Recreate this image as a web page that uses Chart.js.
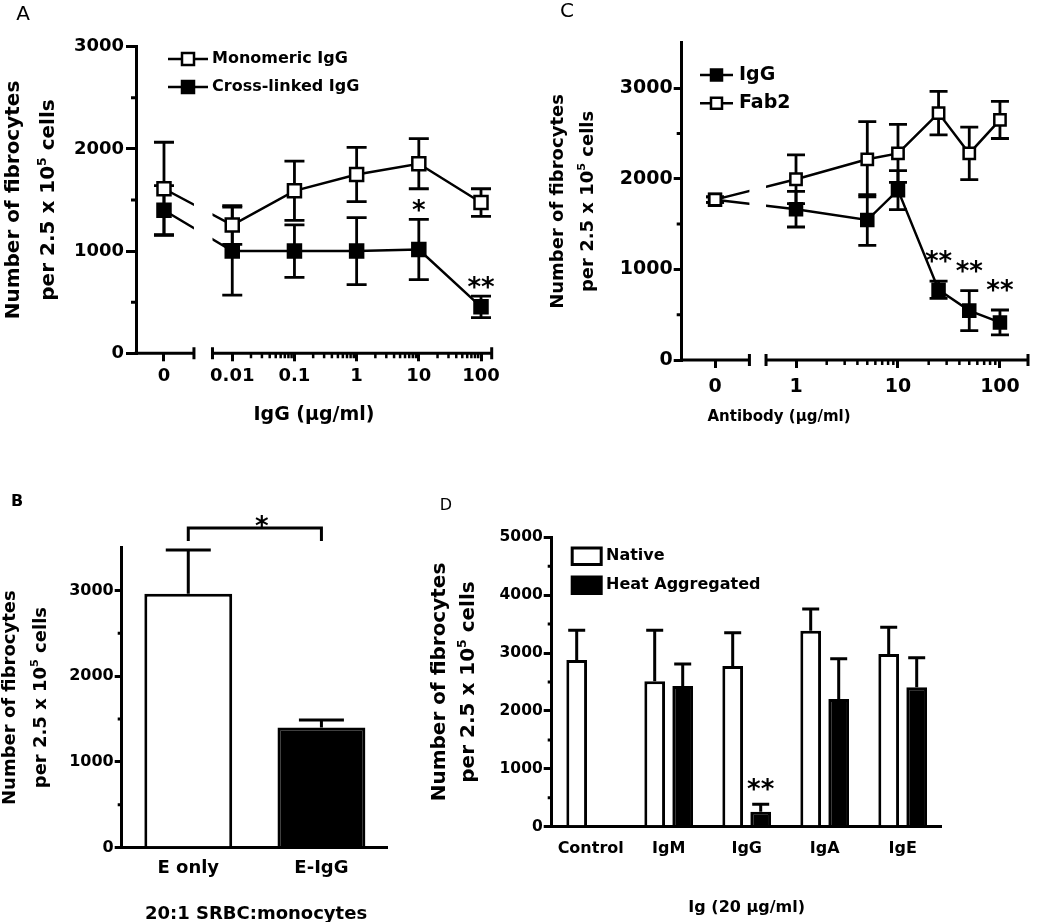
<!DOCTYPE html>
<html>
<head>
<meta charset="utf-8">
<script src="https://cdn.jsdelivr.net/npm/chart.js@4"></script>
<style>
  html, body { margin: 0; background: #fff; }
  #wrap { position: relative; width: 1050px; height: 922px; }
  #wrap canvas { position: absolute; left: 0; top: 0; }
</style>
</head>
<body>
<div id="wrap">
  <canvas id="panelA" width="1050" height="922"></canvas>
  <canvas id="panelB" width="1050" height="922"></canvas>
  <canvas id="panelC" width="1050" height="922"></canvas>
  <canvas id="panelD" width="1050" height="922"></canvas>
</div>
<script>
// ---- panel A: IgG dose response ----
const doseA = [0, 0.01, 0.1, 1, 10, 100];
const tickDoseA = [0, 0.01, 0.1, 1, 10, 100];
const tickLabelA = ['0', '0.01', '0.1', '1', '10', '100'];
const seriesA = ['Monomeric IgG', 'Cross-linked IgG'];
const monoA = [1610, 1255, 1590, 1750, 1855, 1475];
const monoErrA = [455, 190, 290, 265, 245, 135];
const crossA = [1400, 1000, 1000, 1000, 1015, 455];
const crossErrA = [240, 430, 257, 328, 295, 105];
const crossSigA = ['', '', '', '', '*', '**'];

// ---- panel B: SRBC ----
const catB = ['E only', 'E-IgG'];
const valB = [2960, 1400];
const errB = [510, 90];

// ---- panel C: antibody vs Fab2 ----
const doseC = [0, 1, 5, 10, 25, 50, 100];
const tickDoseC = [0, 1, 10, 100];
const tickLabelC = ['0', '1', '10', '100'];
const seriesC = ['IgG', 'Fab2'];
const iggC = [1770, 1665, 1545, 1875, 775, 545, 415];
const iggErrC = [30, 197, 280, 215, 95, 220, 137];
const iggSigC = ['', '', '', '', '**', '**', '**'];
const fabC = [1770, 1995, 2215, 2280, 2725, 2280, 2650];
const fabErrC = [30, 270, 415, 320, 240, 290, 205];

// ---- panel D: Ig classes ----
const catD = ['Control', 'IgM', 'IgG', 'IgA', 'IgE'];
const seriesD = ['Native', 'Heat Aggregated'];
const nativeD = [2880, 2515, 2775, 3385, 2985];
const nativeErrD = [515, 880, 575, 375, 460];
const heatD = [null, 2430, 260, 2205, 2410];
const heatErrD = [null, 380, 128, 697, 511];
const heatSigD = ['', '', '**', '', ''];

// y tick values shared by all panels
const yTicks3000 = [0, 1000, 2000, 3000];
const yTicks5000 = [0, 1000, 2000, 3000, 4000, 5000];

const yTitle = ['Number of fibrocytes', 'per 2.5 x 10', '5', ' cells'];
const xTitleA = 'IgG (μg/ml)';
const xTitleB = '20:1 SRBC:monocytes';
const xTitleC = 'Antibody (μg/ml)';
const xTitleD = 'Ig (20 μg/ml)';

const FAMILY = "'DejaVu Sans', sans-serif";
Chart.defaults.font.family = FAMILY;
Chart.defaults.font.weight = 'bold';
Chart.defaults.color = '#000';
Chart.defaults.animation = false;
Chart.defaults.plugins.legend.display = false;
Chart.defaults.plugins.tooltip.enabled = false;

const font = (size, weight = 'bold') => `${weight} ${size}px ${FAMILY}`;

// plot boxes (pixels of the page)
const boxA = { left: 136, right: 491.7, top: 46.7, bottom: 353.3 };
const boxB = { left: 121.7, right: 388, top: 547.5, bottom: 847.7 };
const boxC = { left: 681.7, right: 1028, top: 42.9, bottom: 360 };
const boxD = { left: 551.7, right: 941.7, top: 537.3, bottom: 826.7 };

// broken log axes: 0 sits left of the break, the rest on log10
function makeBreak(zero, gapL, gapR, min, max) {
  return { zero, gapL, gapR, min, max, pos: v => v === 0 ? zero : Math.log10(v) };
}
const brkA = makeBreak(-3.098, -2.616, -2.318, -3.548, 2.172);
const brkC = makeBreak(-0.794, -0.457, -0.294, -1.121, 2.275);

function pad(box) {
  return { left: box.left - 70, top: box.top, right: 1050 - box.right, bottom: 922 - box.bottom - 40 };
}

function yAxis(max, tickVals, size, tickLen, tickPad) {
  return {
    min: 0, max,
    afterFit: s => { s.width = 70; },
    afterBuildTicks: s => { s.ticks = tickVals.map(v => ({ value: v })); },
    ticks: { font: { size }, padding: tickPad, color: '#000', callback: v => String(v) },
    grid: { drawOnChartArea: false, tickLength: tickLen, tickWidth: 3, lineWidth: 3, color: '#000' },
    border: { width: 3, color: '#000' }
  };
}

function xBroken(brk, tickDoses, tickLabels, size, tickPad) {
  return {
    type: 'linear', min: brk.min, max: brk.max, bounds: 'data',
    afterFit: s => { s.height = 40; },
    afterBuildTicks: s => { s.ticks = tickDoses.map(d => ({ value: brk.pos(d) })); },
    ticks: { autoSkip: false, maxRotation: 0, padding: tickPad, font: { size }, color: '#000',
             callback: (v, i) => tickLabels[i] },
    grid: { drawOnChartArea: false, tickLength: 8, tickWidth: 3, lineWidth: 3, color: '#000' },
    border: { display: false }
  };
}

function xCategory(size, tickPad) {
  return {
    afterFit: s => { s.height = 40; },
    ticks: { font: { size }, padding: tickPad, color: '#000', maxRotation: 0 },
    grid: { drawOnChartArea: false, drawTicks: false, color: '#000' },
    border: { width: 3, color: '#000' }
  };
}

function lineSet(label, doses, vals, errs, fill, brk, r, sig) {
  return {
    label, errors: errs, sig: sig || [],
    data: doses.map((d, i) => ({ x: brk.pos(d), y: vals[i] })),
    borderColor: '#000', borderWidth: 2.5, tension: 0, fill: false,
    pointStyle: 'rect', pointRadius: r, pointBorderWidth: 2.5,
    pointBorderColor: '#000', pointBackgroundColor: fill
  };
}

// ---- drawing helpers ----
function drawYTitle(ctx, xb1, xb2, yc, size) {
  ctx.save();
  ctx.fillStyle = '#000';
  ctx.textBaseline = 'alphabetic';
  ctx.translate(xb1, yc);
  ctx.rotate(-Math.PI / 2);
  ctx.font = font(size);
  ctx.textAlign = 'center';
  ctx.fillText(yTitle[0], 0, 0);
  ctx.restore();

  ctx.save();
  ctx.fillStyle = '#000';
  ctx.textBaseline = 'alphabetic';
  ctx.textAlign = 'left';
  ctx.translate(xb2, yc);
  ctx.rotate(-Math.PI / 2);
  const small = size * 0.62;
  ctx.font = font(size);
  const wa = ctx.measureText(yTitle[1]).width, wc = ctx.measureText(yTitle[3]).width;
  ctx.font = font(small);
  const wb = ctx.measureText(yTitle[2]).width;
  let x = -(wa + wb + wc) / 2;
  ctx.font = font(size);
  ctx.fillText(yTitle[1], x, 0); x += wa;
  ctx.font = font(small);
  ctx.fillText(yTitle[2], x, -size * 0.42); x += wb;
  ctx.font = font(size);
  ctx.fillText(yTitle[3], x, 0);
  ctx.restore();
}

function drawText(ctx, text, x, y, size, weight = 'bold') {
  ctx.save();
  ctx.fillStyle = '#000';
  ctx.font = font(size, weight);
  ctx.textAlign = 'center';
  ctx.textBaseline = 'middle';
  ctx.fillText(text, x, y);
  ctx.restore();
}

function yMinor(chart, len) {
  const { ctx, chartArea: a, scales: { y } } = chart;
  ctx.save();
  ctx.strokeStyle = '#000';
  ctx.lineWidth = 3;
  ctx.beginPath();
  for (let v = 500; v < y.max; v += 1000) {
    const py = y.getPixelForValue(v);
    ctx.moveTo(a.left, py);
    ctx.lineTo(a.left - len, py);
  }
  ctx.stroke();
  ctx.restore();
}

function brokenAxis(chart, brk, firstMinor) {
  const { ctx, chartArea: a, scales: { x } } = chart;
  const yb = a.bottom;
  const gl = x.getPixelForValue(brk.gapL), gr = x.getPixelForValue(brk.gapR);
  ctx.save();
  ctx.strokeStyle = '#000';
  ctx.lineWidth = 3;
  ctx.beginPath();
  ctx.moveTo(a.left - 1.5, yb); ctx.lineTo(gl, yb);
  ctx.moveTo(gr, yb); ctx.lineTo(a.right, yb);
  [gl, gr, a.right].forEach(px => { ctx.moveTo(px, yb - 6); ctx.lineTo(px, yb + 6); });
  ctx.stroke();
  ctx.lineWidth = 2.5;
  ctx.beginPath();
  for (let d = Math.floor(brk.pos(firstMinor)); d < Math.ceil(brk.max); d++) {
    for (let k = 2; k <= 9; k++) {
      const t = d + Math.log10(k);
      if (t > brk.max) continue;
      const px = x.getPixelForValue(t);
      ctx.moveTo(px, yb); ctx.lineTo(px, yb + 5);
    }
  }
  ctx.stroke();
  ctx.restore();
}

function lineErrors(chart, cap) {
  const { ctx, scales: { x, y } } = chart;
  ctx.save();
  ctx.strokeStyle = '#000';
  ctx.lineWidth = 2.8;
  chart.data.datasets.forEach(ds => {
    ds.data.forEach((p, i) => {
      const e = ds.errors[i];
      if (!e) return;
      const px = x.getPixelForValue(p.x);
      const hi = y.getPixelForValue(p.y + e), lo = y.getPixelForValue(p.y - e);
      ctx.beginPath();
      ctx.moveTo(px, hi); ctx.lineTo(px, lo);
      ctx.moveTo(px - cap, hi); ctx.lineTo(px + cap, hi);
      ctx.moveTo(px - cap, lo); ctx.lineTo(px + cap, lo);
      ctx.stroke();
    });
  });
  ctx.restore();
}

function barErrors(chart, cap) {
  const { ctx, scales: { y } } = chart;
  ctx.save();
  ctx.strokeStyle = '#000';
  ctx.lineWidth = 3;
  chart.data.datasets.forEach((ds, di) => {
    chart.getDatasetMeta(di).data.forEach((bar, i) => {
      const v = ds.data[i], e = ds.errors[i];
      if (v == null || !e) return;
      const top = y.getPixelForValue(v), hi = y.getPixelForValue(v + e);
      ctx.beginPath();
      ctx.moveTo(bar.x, top); ctx.lineTo(bar.x, hi);
      ctx.moveTo(bar.x - cap, hi); ctx.lineTo(bar.x + cap, hi);
      ctx.stroke();
    });
  });
  ctx.restore();
}

function stars(chart, size, lift) {
  const { ctx, scales: { y } } = chart;
  ctx.save();
  ctx.fillStyle = '#000';
  ctx.font = font(size);
  ctx.textAlign = 'center';
  ctx.textBaseline = 'alphabetic';
  chart.data.datasets.forEach((ds, di) => {
    (ds.sig || []).forEach((s, i) => {
      if (!s) return;
      const el = chart.getDatasetMeta(di).data[i];
      const raw = ds.data[i];
      const v = typeof raw === 'object' ? raw.y : raw;
      const cy = y.getPixelForValue(v + (ds.errors[i] || 0)) - lift;
      ctx.fillText(s, el.x, cy + size * 0.58);
    });
  });
  ctx.restore();
}

function lineLegend(chart, rows, x0, x1, xt, size, half) {
  const { ctx } = chart;
  ctx.save();
  rows.forEach(row => {
    const ds = chart.data.datasets[row.di];
    const cx = (x0 + x1) / 2;
    ctx.strokeStyle = '#000';
    ctx.lineWidth = 2.5;
    ctx.beginPath();
    ctx.moveTo(x0, row.y); ctx.lineTo(x1, row.y);
    ctx.stroke();
    ctx.fillStyle = ds.pointBackgroundColor;
    ctx.beginPath();
    ctx.rect(cx - half, row.y - half, half * 2, half * 2);
    ctx.fill();
    ctx.stroke();
    ctx.fillStyle = '#000';
    ctx.font = font(size);
    ctx.textAlign = 'left';
    ctx.textBaseline = 'middle';
    ctx.fillText(ds.label, xt, row.y);
  });
  ctx.restore();
}

function brokenPlugin(id, brk, cap) {
  return {
    id,
    beforeDatasetsDraw(chart) {
      lineErrors(chart, cap);
      const { ctx, chartArea: a, scales: { x } } = chart;
      const gl = x.getPixelForValue(brk.gapL), gr = x.getPixelForValue(brk.gapR);
      ctx.save();
      ctx.beginPath();
      ctx.rect(0, 0, chart.width, chart.height);
      ctx.rect(gl, a.top - 30, gr - gl, a.bottom - a.top + 30);
      ctx.clip('evenodd');
    },
    afterDatasetsDraw(chart) {
      chart.ctx.restore();
    }
  };
}

// ---- panel A ----
new Chart(document.getElementById('panelA'), {
  type: 'line',
  data: {
    datasets: [
      lineSet(seriesA[0], doseA, monoA, monoErrA, '#fff', brkA, 9.2),
      lineSet(seriesA[1], doseA, crossA, crossErrA, '#000', brkA, 9.2, crossSigA)
    ]
  },
  options: {
    responsive: false,
    layout: { padding: pad(boxA) },
    scales: {
      x: xBroken(brkA, tickDoseA, tickLabelA, 18, 4),
      y: yAxis(3000, yTicks3000, 18, 10, 2)
    }
  },
  plugins: [brokenPlugin('brokenA', brkA, 10), {
    id: 'decorA',
    afterDraw(chart) {
      const ctx = chart.ctx;
      brokenAxis(chart, brkA, tickDoseA[1]);
      yMinor(chart, 5);
      stars(chart, 26, 15);
      lineLegend(chart, [{ di: 0, y: 59 }, { di: 1, y: 87 }], 168, 208, 212, 16, 6);
      drawYTitle(ctx, 18.5, 54, (boxA.top + boxA.bottom) / 2, 20);
      drawText(ctx, xTitleA, 314, 415, 19);
      drawText(ctx, 'A', 23, 15, 20, 'normal');
    }
  }]
});

// ---- panel C ----
new Chart(document.getElementById('panelC'), {
  type: 'line',
  data: {
    datasets: [
      lineSet(seriesC[1], doseC, fabC, fabErrC, '#fff', brkC, 8),
      lineSet(seriesC[0], doseC, iggC, iggErrC, '#000', brkC, 8.5, iggSigC)
    ]
  },
  options: {
    responsive: false,
    layout: { padding: pad(boxC) },
    scales: {
      x: xBroken(brkC, tickDoseC, tickLabelC, 19, 8),
      y: yAxis(3500, yTicks3000, 19, 8, 1)
    }
  },
  plugins: [brokenPlugin('brokenC', brkC, 9), {
    id: 'decorC',
    afterDraw(chart) {
      const ctx = chart.ctx;
      brokenAxis(chart, brkC, tickDoseC[1]);
      yMinor(chart, 5);
      stars(chart, 26, 26);
      lineLegend(chart, [{ di: 1, y: 75 }, { di: 0, y: 103.3 }], 700, 733, 739, 19, 5.5);
      drawYTitle(ctx, 562.5, 593, (boxC.top + boxC.bottom) / 2, 18);
      drawText(ctx, xTitleC, 779, 416.7, 15);
      drawText(ctx, 'C', 567, 12, 20, 'normal');
    }
  }]
});

// ---- panel B ----
new Chart(document.getElementById('panelB'), {
  type: 'bar',
  data: {
    labels: catB,
    datasets: [{
      data: valB, errors: errB,
      backgroundColor: ['#fff', '#000'], borderColor: '#000', borderWidth: 3,
      barPercentage: 0.66, categoryPercentage: 1
    }]
  },
  options: {
    responsive: false,
    layout: { padding: pad(boxB) },
    scales: {
      x: xCategory(18, 10),
      y: yAxis(3500, yTicks3000, 16, 7, 1)
    }
  },
  plugins: [{
    id: 'decorB',
    afterDatasetsDraw(chart) { barErrors(chart, 22.5); },
    afterDraw(chart) {
      const { ctx, scales: { y } } = chart;
      yMinor(chart, 4);
      const bars = chart.getDatasetMeta(0).data;
      const x1 = bars[0].x, x2 = bars[1].x;
      const yTop = Math.min(...valB.map((v, i) => y.getPixelForValue(v + errB[i]))) - 22;
      ctx.save();
      ctx.strokeStyle = '#000';
      ctx.lineWidth = 3;
      ctx.beginPath();
      ctx.moveTo(x1, yTop + 13); ctx.lineTo(x1, yTop); ctx.lineTo(x2, yTop); ctx.lineTo(x2, yTop + 13);
      ctx.stroke();
      ctx.font = font(26);
      ctx.fillStyle = '#000';
      ctx.textAlign = 'center';
      ctx.textBaseline = 'alphabetic';
      ctx.fillText('*', (x1 + x2) / 2 + 7, yTop - 8 + 26 * 0.58);
      ctx.restore();
      drawYTitle(ctx, 14.5, 46, (boxB.top + boxB.bottom) / 2, 18);
      drawText(ctx, xTitleB, 256, 914, 18);
      drawText(ctx, 'B', 17, 502, 16);
    }
  }]
});

// ---- panel D ----
new Chart(document.getElementById('panelD'), {
  type: 'bar',
  data: {
    labels: catD,
    datasets: [
      { label: seriesD[0], data: nativeD, errors: nativeErrD,
        backgroundColor: '#fff', borderColor: '#000', borderWidth: 3,
        barPercentage: 0.74, categoryPercentage: 0.718 },
      { label: seriesD[1], data: heatD, errors: heatErrD, sig: heatSigD,
        backgroundColor: '#000', borderColor: '#000', borderWidth: 3,
        barPercentage: 0.74, categoryPercentage: 0.718 }
    ]
  },
  options: {
    responsive: false,
    layout: { padding: pad(boxD) },
    scales: {
      x: xCategory(16, 13),
      y: yAxis(5000, yTicks5000, 15.5, 8, 1)
    }
  },
  plugins: [{
    id: 'decorD',
    afterDatasetsDraw(chart) { barErrors(chart, 8.5); },
    afterDraw(chart) {
      const ctx = chart.ctx;
      yMinor(chart, 4);
      stars(chart, 26, 21);
      // legend boxes
      ctx.save();
      [{ di: 0, y: 556.3 }, { di: 1, y: 585.3 }].forEach(row => {
        const ds = chart.data.datasets[row.di];
        ctx.fillStyle = ds.backgroundColor;
        ctx.strokeStyle = '#000';
        ctx.lineWidth = 3;
        ctx.beginPath();
        ctx.rect(572.2, row.y - 8.2, 29, 16.4);
        ctx.fill();
        ctx.stroke();
        ctx.fillStyle = '#000';
        ctx.font = font(16);
        ctx.textAlign = 'left';
        ctx.textBaseline = 'middle';
        ctx.fillText(ds.label, 606, row.y);
      });
      ctx.restore();
      drawYTitle(ctx, 445, 474, (boxD.top + boxD.bottom) / 2, 20);
      drawText(ctx, xTitleD, 746.7, 908, 16);
      drawText(ctx, 'D', 446, 506, 16, 'normal');
    }
  }]
});
</script>
</body>
</html>
